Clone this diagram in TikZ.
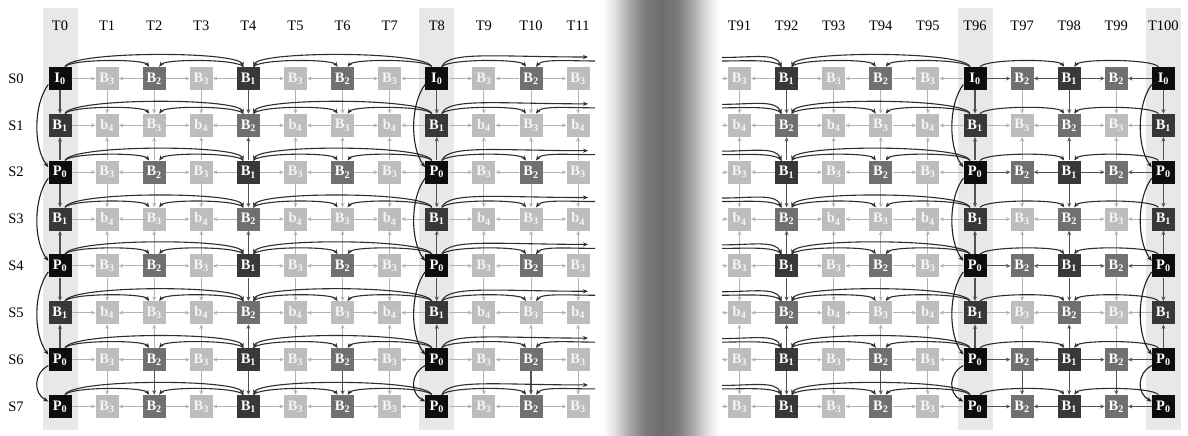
\documentclass[tikz,border=0pt]{standalone}
\usepackage{fontspec}
\setmainfont{Liberation Serif}
\usetikzlibrary{arrows.meta}
\pgfdeclarehorizontalshading{fold}{100bp}{color(0bp)=(white); color(25bp)=(white); color(30bp)=(black!12); color(37bp)=(black!36); color(43bp)=(black!52); color(50bp)=(black!57); color(57bp)=(black!52); color(63bp)=(black!36); color(70bp)=(black!12); color(75bp)=(white); color(100bp)=(white)}
\tikzset{
  box/.style={minimum size=23pt, inner sep=0pt, text=white, font=\fontsize{14.5}{14.5}\selectfont\bfseries},
  lev0/.style={fill=black!95},
  lev1/.style={fill=black!78},
  lev2/.style={fill=black!56},
  lev3/.style={fill=black!26, text=white!96!black},
  lev4/.style={fill=black!26, text=white!96!black},
  hdr/.style={font=\fontsize{14.5}{15}\selectfont, inner sep=0pt},
  rowlab/.style={font=\fontsize{14.5}{15}\selectfont, inner sep=0pt},
  arrtip/.style={-{Stealth[length=4.5pt,width=4pt]}},
  lightarr/.style={draw=black!30, line width=1pt, arrtip},
  darkarr/.style={draw=black!68, line width=1.1pt, arrtip},
  arcline/.style={draw=black!82, line width=1.1pt},
  arcarr/.style={arcline, -{Stealth[length=5pt,width=4.2pt]}},
  loopcurve/.style={draw=black!88, line width=1.1pt, -{Stealth[length=5pt,width=4.2pt]}},
  colbg/.style={fill=black!9}
}
\def\cols{0/60/0,1/107.1/3,2/154.2/2,3/201.3/3,4/248.4/1,5/295.5/3,6/342.6/2,7/389.7/3,8/436.8/0,9/483.9/3,10/531/2,11/578.1/3,91/739.5/3,92/786.6/1,93/833.7/3,94/880.8/2,95/927.9/3,96/975/0,97/1022.1/2,98/1069.2/1,99/1116.3/2,100/1163.4/0}
\begin{document}
\begin{tikzpicture}[x=1pt,y=1pt]
\useasboundingbox (0,0) rectangle (1188,436);
\shade[shading=fold] (603,0) rectangle (719,436);
\foreach \xc in {60,436.8,975,1163.4} \fill[colbg] (\xc-17.5,6) rectangle (\xc+17.5,428);
% nodes
\foreach \tc/\xc/\lc in \cols {
  \node[hdr] (h\tc) at (\xc,410.5) {T\tc};
  \foreach \r in {0,...,7} {
    \pgfmathsetmacro\y{357.5-46.85*\r}
    \pgfmathtruncatemacro\D{(mod(\r,2)==1 && \r<7) ? \lc+1 : \lc}
    \expandafter\xdef\csname D\tc-\r\endcsname{\D}
    \node[box, lev\D] (n\tc-\r) at (\xc,\y) {\ifcase\D \ifnum\r=0 I\else P\fi\textsubscript{0}\or B\textsubscript{1}\or B\textsubscript{2}\or B\textsubscript{3}\or b\textsubscript{4}\fi};
  }
}
\foreach \r in {0,...,7} {
  \pgfmathsetmacro\y{357.5-46.85*\r}
  \node[rowlab] (s\r) at (16,\y) {S\r};
}
% vertical arrows
\foreach \tc/\xc/\lc in \cols {
  \foreach \r in {0,...,6} {
    \pgfmathtruncatemacro\rn{\r+1}
    \ifodd\r\relax \edef\src{\rn}\edef\dst{\r}\else \edef\src{\r}\edef\dst{\rn}\fi
    \pgfmathtruncatemacro\skipit{(\r==6 && \lc==0) ? 1 : 0}
    \ifnum\skipit=0\relax
      \ifnum\csname D\tc-\dst\endcsname>2\relax \def\sty{lightarr}\else \def\sty{darkarr}\fi
      \draw[\sty] (n\tc-\src) -- (n\tc-\dst);
    \fi
  }
}
% horizontal arrows
\foreach \r in {0,...,7} {
  \foreach \pa/\pb in {0/1,2/1,2/3,4/3,4/5,6/5,6/7,8/7,8/9,10/9,10/11,92/91,92/93,94/93,94/95,96/95,96/97,98/97,98/99,100/99} {
    \ifnum\csname D\pb-\r\endcsname>2\relax \def\sty{lightarr}\else \def\sty{darkarr}\fi
    \draw[\sty] (n\pa-\r) -- (n\pb-\r);
  }
  \pgfmathsetmacro\y{357.5-46.85*\r}
  \coordinate (lin\r) at (722,\y);
  \draw[lightarr] (lin\r) -- (n91-\r);
}
% arcs above rows
\foreach \r in {0,...,7} {
  \foreach \pa/\pb/\h in {0/4/16,8/4/16,0/2/8,4/2/8,4/6/8,8/6/8,8/10/8,92/94/8,96/94/8,96/92/16,96/98/8,100/98/8} {
    \ifnum\pb>\pa\relax \def\xsa{5}\def\xsb{-5}\def\cxa{6}\def\cxb{-6}\else \def\xsa{-5}\def\xsb{5}\def\cxa{-6}\def\cxb{6}\fi
    \draw[arcarr] ([xshift=\xsa pt]n\pa-\r.north) .. controls +(\cxa,\h) and +(\cxb,\h) .. ([xshift=\xsb pt]n\pb-\r.north);
  }
  \pgfmathsetmacro\y{357.5-46.85*\r}
  \coordinate (rout\r) at (588,\y+21.5);
  \coordinate (rin\r) at (595,\y+17.5);
  \coordinate (lfar\r) at (722,\y+21);
  \coordinate (lout\r) at (722,\y+17.5);
  \draw[arcarr] ([xshift=5pt]n8-\r.north) .. controls +(6,16) and +(-90,0) .. (rout\r);
  \draw[arcarr] (rin\r) .. controls +(-25,0) and +(6,8) .. ([xshift=5pt]n10-\r.north);
  \draw[arcarr] (lfar\r) .. controls +(30,0) and +(-6,14) .. ([xshift=-5pt]n92-\r.north);
  \draw[arcline] ([xshift=-5pt]n92-\r.north) .. controls +(-6,8) and +(25,0) .. (lout\r);
}
% curves left of anchor columns
\foreach \tc in {0,8,96,100} {
  \foreach \pa/\pb/\cy in {0/2/20,2/4/20,4/6/20,6/7/8} {
    \draw[loopcurve] ([yshift=-6pt]n\tc-\pa.west) .. controls +(-15,-\cy) and +(-15,\cy) .. ([yshift=5pt]n\tc-\pb.west);
  }
}
\end{tikzpicture}
\end{document}
